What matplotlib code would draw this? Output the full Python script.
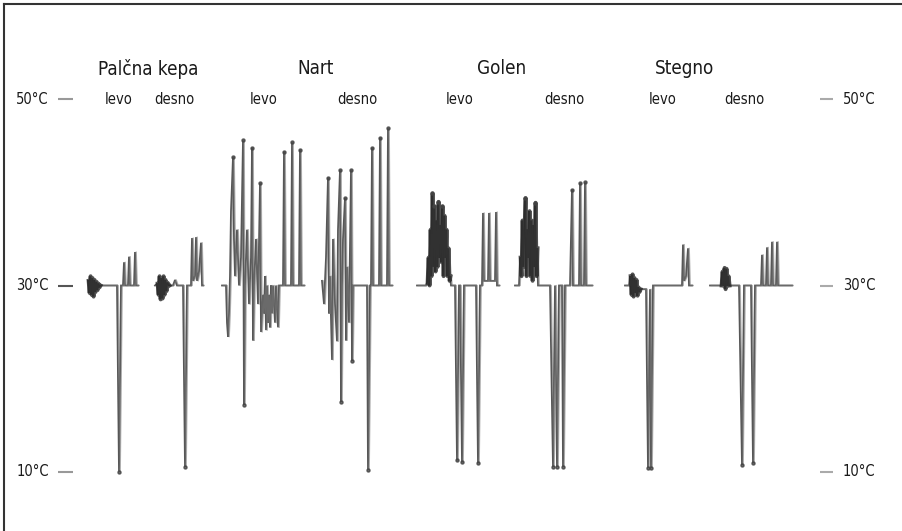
import numpy as np
import matplotlib
matplotlib.use("Agg")
from matplotlib import pyplot as plt

plt.rcParams['font.family'] = ['DejaVu Sans']
plt.rcParams['font.stretch'] = 'condensed'

#==============================+
# Temperature traces (°C)      |
# t = time offset within trace |
#==============================+
groups = ['Palčna kepa', 'Nart', 'Golen', 'Stegno']
sides = ['levo', 'desno']
temp_ticks = [50, 30, 10]
tick_labels = ['50°C', '30°C', '10°C']

palcna_levo_t = [0, 1, 2, 3, 4, 5, 6, 7, 8, 9, 10, 11, 12, 29, 31, 33, 35, 36, 37, 40, 41, 42, 46, 47, 48, 50]
palcna_levo_T = [30.5, 29.2, 31, 29, 30.8, 28.8, 30.6, 29.3, 30.4, 29.5, 30.2, 29.8, 30, 30, 10, 30, 30, 32.5, 30, 30, 33.1, 30, 30, 33.6, 30, 30]

palcna_desno_t = [0, 2, 3, 4, 5, 6, 7, 8, 9, 10, 11, 12, 14, 18, 20, 22, 28, 30, 32, 36, 37, 38, 40, 41, 42, 44, 46, 47, 48]
palcna_desno_T = [30, 30.2, 29, 31, 28.5, 30.8, 28.6, 31, 29, 30.6, 29.4, 30.3, 30, 30, 30.6, 30, 30, 10.5, 30, 30, 35.1, 30.5, 31, 35.2, 30.5, 31.5, 34.6, 30, 30]

nart_levo_t = [0, 4, 5, 6, 7, 8, 9, 11, 12, 13, 15, 17, 19, 21, 22, 23, 25, 27, 29, 30, 31, 32, 34, 36, 38, 39, 41, 42, 43, 44, 45, 46, 47, 48, 49, 50, 51, 53, 54, 56, 57, 61, 62, 63, 69, 70, 71, 77, 78, 79, 82]
nart_levo_T = [30, 30, 26, 24.5, 27, 31, 38, 43.8, 35, 31, 36, 30, 33, 45.6, 17.2, 30, 36, 28, 33, 44.8, 24.1, 30, 35, 28, 41.0, 25, 29, 27.0, 31, 25.2, 30, 26, 29, 25.5, 30, 27, 30, 26, 30, 25.5, 30, 30, 44.4, 30, 30, 45.4, 30, 30, 44.6, 30, 30]

nart_desno_t = [0, 2, 4, 6, 7, 8, 10, 11, 13, 15, 16, 18, 19, 20, 21, 23, 24, 25, 27, 29, 30, 31, 33, 45, 46, 48, 49, 50, 51, 57, 58, 59, 65, 66, 67, 70]
nart_desno_T = [30.5, 28, 33, 41.6, 27, 31, 22, 35, 28, 24, 36, 42.4, 17.5, 30, 35, 39.4, 24.1, 32, 26, 42.4, 21.9, 30, 30, 30, 10.2, 30, 30, 44.8, 30, 30, 45.9, 30, 30, 46.9, 30, 30]

golen_levo_t = [0, 9, 10, 11, 12, 13, 14, 15, 16, 17, 18, 19, 20, 21, 22, 23, 24, 25, 26, 27, 28, 29, 30, 31, 32, 33, 34, 38, 40, 42, 43, 45, 47, 59, 61, 63, 65, 66, 67, 71, 72, 73, 78, 79, 80, 82]
golen_levo_T = [30, 30, 30.3, 33, 30, 36, 31, 39.9, 32, 38.5, 31.5, 37, 32, 39, 33, 36.5, 32.5, 38.5, 31, 37.5, 33, 36, 31, 34, 30.5, 31, 30, 30, 11.2, 30, 30, 11, 30, 30, 10.9, 30, 30, 37.8, 30.5, 30.5, 37.8, 30.5, 30.5, 37.9, 30, 30]

golen_desno_t = [0, 4, 5, 6, 7, 8, 10, 11, 12, 13, 14, 15, 16, 17, 18, 19, 20, 21, 22, 23, 35, 38, 40, 42, 44, 47, 48, 50, 55, 57, 58, 64, 65, 66, 69, 70, 71, 77]
golen_desno_T = [30, 30, 33, 31, 37, 32, 39.4, 31, 36, 33, 38, 31, 37, 30.5, 36.5, 32, 38.9, 31, 34, 30, 30, 10.5, 30, 10.5, 30, 30, 10.5, 30, 30, 40.3, 30, 30, 41.0, 30, 30, 41.1, 30, 30]

stegno_levo_t = [0, 4, 5, 6, 7, 8, 9, 10, 11, 12, 13, 14, 15, 21, 23, 25, 26, 28, 57, 58, 59, 61, 63, 64, 67]
stegno_levo_T = [30, 30, 31, 29, 31.2, 28.8, 30.8, 29.2, 30.6, 28.9, 29.8, 29.3, 29.6, 29.6, 10.4, 29.6, 10.4, 30, 30, 34.4, 30.5, 31, 34.0, 30, 30]

stegno_desno_t = [0, 11, 12, 13, 14, 15, 16, 17, 18, 19, 29, 32, 34, 41, 43, 45, 51, 52, 53, 56, 57, 58, 61, 62, 63, 66, 67, 68, 82]
stegno_desno_T = [30, 30, 31.5, 30, 31.9, 29.6, 31.8, 30, 31, 30, 30, 10.7, 30, 30, 10.9, 30, 30, 33.3, 30, 30, 34.1, 30, 30, 34.7, 30, 30, 34.7, 30, 30]

traces = [
    (palcna_levo_t, palcna_levo_T),
    (palcna_desno_t, palcna_desno_T),
    (nart_levo_t, nart_levo_T),
    (nart_desno_t, nart_desno_T),
    (golen_levo_t, golen_levo_T),
    (golen_desno_t, golen_desno_T),
    (stegno_levo_t, stegno_levo_T),
    (stegno_desno_t, stegno_desno_T),
]

#==========+
# Layout   |
#==========+
trace_start = [88, 155, 222, 322, 417, 515, 625, 710]
# index range of the dense burst drawn heavier (None = no burst)
dense = [(0, 12), (1, 12), None, None, (2, 25), (2, 18), (2, 12), (1, 9)]
side_label_x = [119, 174, 264, 357, 460, 564, 663, 744]
group_label_x = [148, 316, 502, 685]

fig = plt.figure(figsize=(9.03, 5.31), dpi=100)
ax = fig.add_axes([0, 0, 1, 1])
ax.set_xlim(0, 903)
# 30°C near pixel row 285, 9.3 px per degree
ax.set_ylim(30 - (531 - 285.5) / 9.3, 30 + 285.5 / 9.3)
ax.axis('off')

for (t, T), x0, d in zip(traces, trace_start, dense):
    t = np.array(t) + x0
    T = np.array(T)
    ax.plot(t, T, color='#3a3a3a', lw=1.3, alpha=0.85, solid_joinstyle='miter')
    ax.plot(t + 1.2, T, color='#777777', lw=1.0, alpha=0.6)
    if d is not None:
        a, b = d
        ax.plot(t[a:b + 1] + 0.6, T[a:b + 1], color='#1e1e1e', lw=2.8, alpha=0.75)
    # small dots at far-off extremes
    far = np.abs(T - 30) > 8
    ax.plot(t[far], T[far], 'o', ms=2.2, color='#444444', alpha=0.8)

# temperature scale marks
for val, lab in zip(temp_ticks, tick_labels):
    ax.hlines(val, 58, 73, color='#555555' if val == 30 else '#999999', lw=1.5)
    ax.hlines(val, 820, 833, color='#aaaaaa', lw=1.5)
    ax.text(49, val, lab, ha='right', va='center', fontsize=10.5, color='#1a1a1a')
    ax.text(843, val, lab, ha='left', va='center', fontsize=10.5, color='#1a1a1a')

for name, x in zip(groups, group_label_x):
    ax.text(x, 30 + (285.5 - 69) / 9.3, name, ha='center', va='center', fontsize=13.5, color='#1a1a1a')
for i, x in enumerate(side_label_x):
    ax.text(x, 30 + (285.5 - 99) / 9.3, sides[i % 2], ha='center', va='center', fontsize=10.5, color='#1a1a1a')

# frame (top and left edges)
ax.plot([4 / 903, 1], [1 - 4 / 531, 1 - 4 / 531], transform=ax.transAxes, color='#333333', lw=1.5)
ax.plot([4 / 903, 4 / 903], [0, 1 - 4 / 531], transform=ax.transAxes, color='#333333', lw=1.5)

plt.savefig('out.png', dpi=100)
